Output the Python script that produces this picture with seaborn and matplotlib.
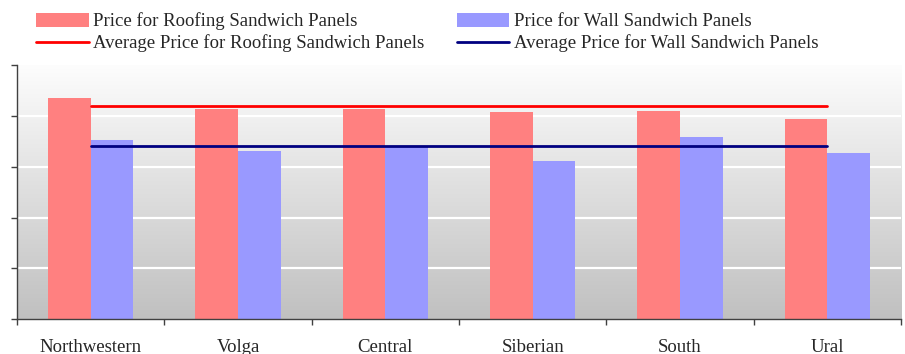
import numpy as np
import pandas as pd
import matplotlib
matplotlib.use("Agg")
import matplotlib.pyplot as plt
from matplotlib.colors import LinearSegmentedColormap
from matplotlib.patches import Patch
from matplotlib.lines import Line2D
import seaborn as sns

regions = ["Northwestern", "Volga", "Central", "Siberian", "South", "Ural"]
roofing_price = [435, 414, 414, 408, 410, 394]
wall_price = [352, 331, 341, 311, 358, 327]
roofing_avg = 419
wall_avg = 341
y_ticks = [0, 100, 200, 300, 400, 500]

roof_label = "Price for Roofing Sandwich Panels"
wall_label = "Price for Wall Sandwich Panels"
roof_avg_label = "Average Price for Roofing Sandwich Panels"
wall_avg_label = "Average Price for Wall Sandwich Panels"

roof_color = "#FF8080"
wall_color = "#9999FF"
roof_line_color = "#FF0000"
wall_line_color = "#000080"

sns.set_style("white")
plt.rcParams["font.family"] = ["Liberation Serif", "DejaVu Serif"]

df = pd.DataFrame({
    "region": regions * 2,
    "price": roofing_price + wall_price,
    "type": [roof_label] * len(regions) + [wall_label] * len(regions),
})

fig = plt.figure(figsize=(9.05, 3.54), dpi=100)
ax = fig.add_axes([0.0188, 0.098, 0.9768, 0.7184])

n = len(regions)
x_lo, x_hi = -0.5, n - 0.5

# vertical grey gradient behind the plot
grad_cmap = LinearSegmentedColormap.from_list("bg", ["#c0c0c0", "#fdfdfd"])
grad = np.linspace(0, 1, 256).reshape(-1, 1)
ax.imshow(grad, extent=[x_lo, x_hi, y_ticks[0], y_ticks[-1]], origin="lower",
          aspect="auto", cmap=grad_cmap, zorder=0, interpolation="bilinear")

for yv in y_ticks[1:-1]:
    ax.axhline(yv, color="white", lw=1.6, zorder=1)

sns.barplot(data=df, x="region", y="price", hue="type", order=regions,
            hue_order=[roof_label, wall_label],
            palette=[roof_color, wall_color], width=0.58, gap=0,
            saturation=1, legend=False, linewidth=0, edgecolor="none",
            ax=ax, zorder=2)

pos = np.arange(n)
sns.lineplot(x=pos, y=[roofing_avg] * n, color=roof_line_color, lw=2.0, ax=ax, zorder=3)
sns.lineplot(x=pos, y=[wall_avg] * n, color=wall_line_color, lw=2.0, ax=ax, zorder=3)

ax.set_xlim(x_lo, x_hi)
ax.set_ylim(y_ticks[0], y_ticks[-1])
ax.set_xlabel("")
ax.set_ylabel("")

ax.set_yticks(y_ticks)
ax.set_yticklabels([])
ax.tick_params(axis="y", which="major", direction="out", length=4, width=1,
               color="#404040", left=True)

ax.set_xticks(pos)
ax.set_xticklabels(regions, fontsize=13.5)
ax.tick_params(axis="x", which="major", length=0, pad=14)
ax.set_xticks(np.arange(x_lo, x_hi + 0.01, 1.0), minor=True)
ax.tick_params(axis="x", which="minor", direction="out", length=4, width=1,
               color="#404040", bottom=True)

for side in ["top", "right"]:
    ax.spines[side].set_visible(False)
for side in ["left", "bottom"]:
    ax.spines[side].set_color("#404040")
    ax.spines[side].set_linewidth(1.0)

handles = [
    Patch(facecolor=roof_color, edgecolor="none", label=roof_label),
    Line2D([0], [0], color=roof_line_color, lw=2.0, label=roof_avg_label),
    Patch(facecolor=wall_color, edgecolor="none", label=wall_label),
    Line2D([0], [0], color=wall_line_color, lw=2.0, label=wall_avg_label),
]
fig.legend(handles=handles, loc="upper left", bbox_to_anchor=(0.04, 0.965),
           ncol=2, frameon=False, fontsize=13.5, handlelength=2.8,
           handleheight=0.75, handletextpad=0.22, columnspacing=1.75,
           labelspacing=0.22, borderpad=0, borderaxespad=0)

fig.savefig("out.png", dpi=100)
